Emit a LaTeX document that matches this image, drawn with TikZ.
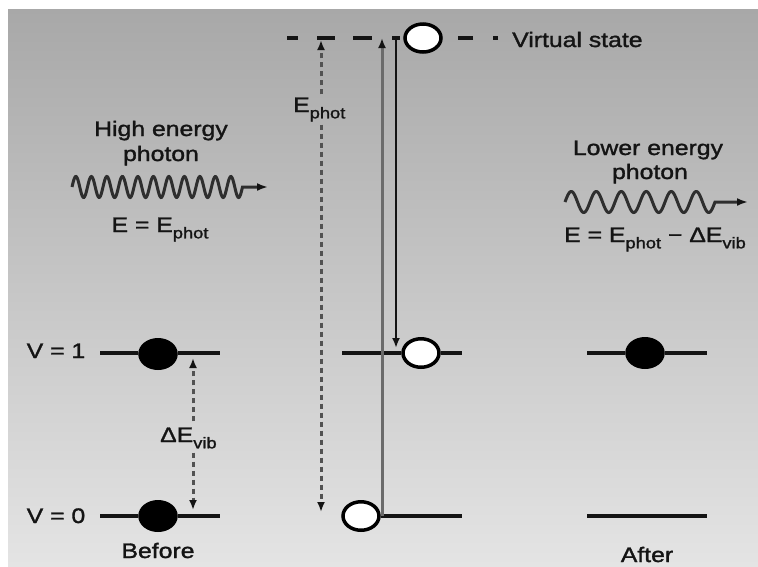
\documentclass[tikz,border=0pt]{standalone}
\usepackage{fontspec}
\setmainfont{Liberation Sans}[FakeStretch=1.18]
\newfontfamily\lblfont{Liberation Sans}[FakeStretch=1.18, FakeBold=1.5]
\usetikzlibrary{shapes.geometric,arrows.meta}
\definecolor{bgtop}{RGB}{168,168,168}
\definecolor{bgbot}{RGB}{228,228,228}
\newcommand\lsub[1]{\raisebox{-0.3em}{\fontsize{15.5}{15}\selectfont #1}}
\begin{document}
\begin{tikzpicture}[x=1pt,y=-1pt,
  lvl/.style={line width=3.5pt, draw=black!92},
  dot/.style={ellipse, draw=black, fill=black, line width=3.5pt, minimum width=36pt, minimum height=28.5pt, inner sep=0pt},
  hole/.style={dot, fill=white},
  lbl/.style={font=\lblfont\fontsize{21}{25}\selectfont, text=black!92, inner sep=0pt},
  tip/.style={-{Latex[length=10pt,width=8pt,color=black!92]}},
  dsh/.style={line width=3pt, draw=black!68, dash pattern=on 5pt off 4pt, tip},
  wave/.style={line width=3pt, draw=black!82, -{Latex[length=11pt,width=8pt,color=black!92]}},
  vline/.style={line width=3.5pt, draw=black!92}
]
% background
\fill[white] (0,0) rectangle (758,566);
\shade[top color=bgtop, bottom color=bgbot] (8,9) rectangle (758,566);
\useasboundingbox (0,0) rectangle (758,566);

% circles
\node[dot] (b1) at (158,354) {};
\node[dot] (b0) at (158,516) {};
\node[hole] (m1) at (421,353) {};
\node[hole] (m0) at (361,516) {};
\node[dot] (a1) at (645,353) {};
\node[hole, minimum width=36pt, minimum height=28pt] (vs) at (423,38) {};

% level end points
\coordinate (b1L) at (100,353); \coordinate (b1R) at (220,353);
\coordinate (b0L) at (100,516); \coordinate (b0R) at (220,516);
\coordinate (m1L) at (342,353); \coordinate (m1R) at (462,353);
\coordinate (m0R) at (462,516);
\coordinate (a1L) at (587,353); \coordinate (a1R) at (707,353);
\coordinate (a0L) at (587,516); \coordinate (a0R) at (707,516);
\coordinate (vsL) at (287,38); \coordinate (vsR) at (498,38);

% levels
\draw[lvl] (b1L) -- (b1.west |- b1L) (b1.east |- b1R) -- (b1R);
\draw[lvl] (b0L) -- (b0.west) (b0.east) -- (b0R);
\draw[lvl] (m1L) -- (m1.west) (m1.east) -- (m1R);
\draw[lvl] (m0.east) -- (m0R);
\draw[lvl] (a1L) -- (a1.west) (a1.east) -- (a1R);
\draw[lvl] (a0L) -- (a0R);

% virtual state dashed level
\draw[vline, dash pattern=on 11pt off 19pt on 18pt off 18pt on 19pt off 20pt on 8pt off 10pt] (vsL) -- (vs.west);
\draw[vline, dash pattern=on 5pt off 20pt on 15pt off 30pt] (vsR) -- (vs.east);

% transitions
\coordinate (upBot) at (382,516); \coordinate (upTop) at (382,38);
\draw[line width=3pt, draw=black!58, tip] (upBot) -- (upTop);
\coordinate (dnTop) at (396,38); \coordinate (dnBot) at (396,348);
\draw[line width=2.5pt, draw=black!92, tip] (dnTop) -- (dnBot);

% E_phot
\node[lbl, anchor=base west] (ephot) at (293,112) {E\lsub{phot}};
\coordinate (eTop) at (321,40); \coordinate (eBot) at (321,512);
\draw[dsh, shorten <=3pt] (ephot.north -| eTop) -- (eTop);
\draw[dsh, shorten <=3pt] (ephot.south -| eTop) -- (eBot);

% Delta E_vib
\node[lbl, anchor=base west] (dvib) at (160,442) {ΔE\lsub{vib}};
\coordinate (dvTop) at (193,358); \coordinate (dvBot) at (193,510);
\draw[dsh, shorten <=6pt] (dvib.north -| dvTop) -- (dvTop);
\draw[dsh, shorten <=4pt] (dvib.south -| dvBot) -- (dvBot);

% labels
\node[lbl, anchor=base west] (vst) at (512,47) {Virtual state};
\node[lbl, anchor=base] (v1) at (56,358) {V = 1};
\node[lbl, anchor=base] (v0) at (56,523) {V = 0};
\node[lbl, anchor=base] (bef) at (158,558) {Before};
\node[lbl, anchor=base] (aft) at (647,562) {After};

\node[lbl, anchor=base] (he) at (161,136) {High energy};
\node[lbl, anchor=base] (hp) at (161,161) {photon};
\node[lbl, anchor=base] (heq) at (160,232) {E = E\lsub{phot}};
\node[lbl, anchor=base] (le) at (648,155) {Lower energy};
\node[lbl, anchor=base] (lp) at (650,179) {photon};
\node[lbl, anchor=base] (leq) at (655,242) {E = E\lsub{phot} − ΔE\lsub{vib}};

% photons
\draw[wave] plot[domain=0:170.5, samples=300] ({72+\x}, {187-10.5*sin((\x/15.5)*360)}) -- (268,187);
\draw[wave] plot[domain=0:150, samples=300] ({565+\x}, {202-10.5*sin((\x/25)*360)}) -- (748,202);
\end{tikzpicture}
\end{document}
